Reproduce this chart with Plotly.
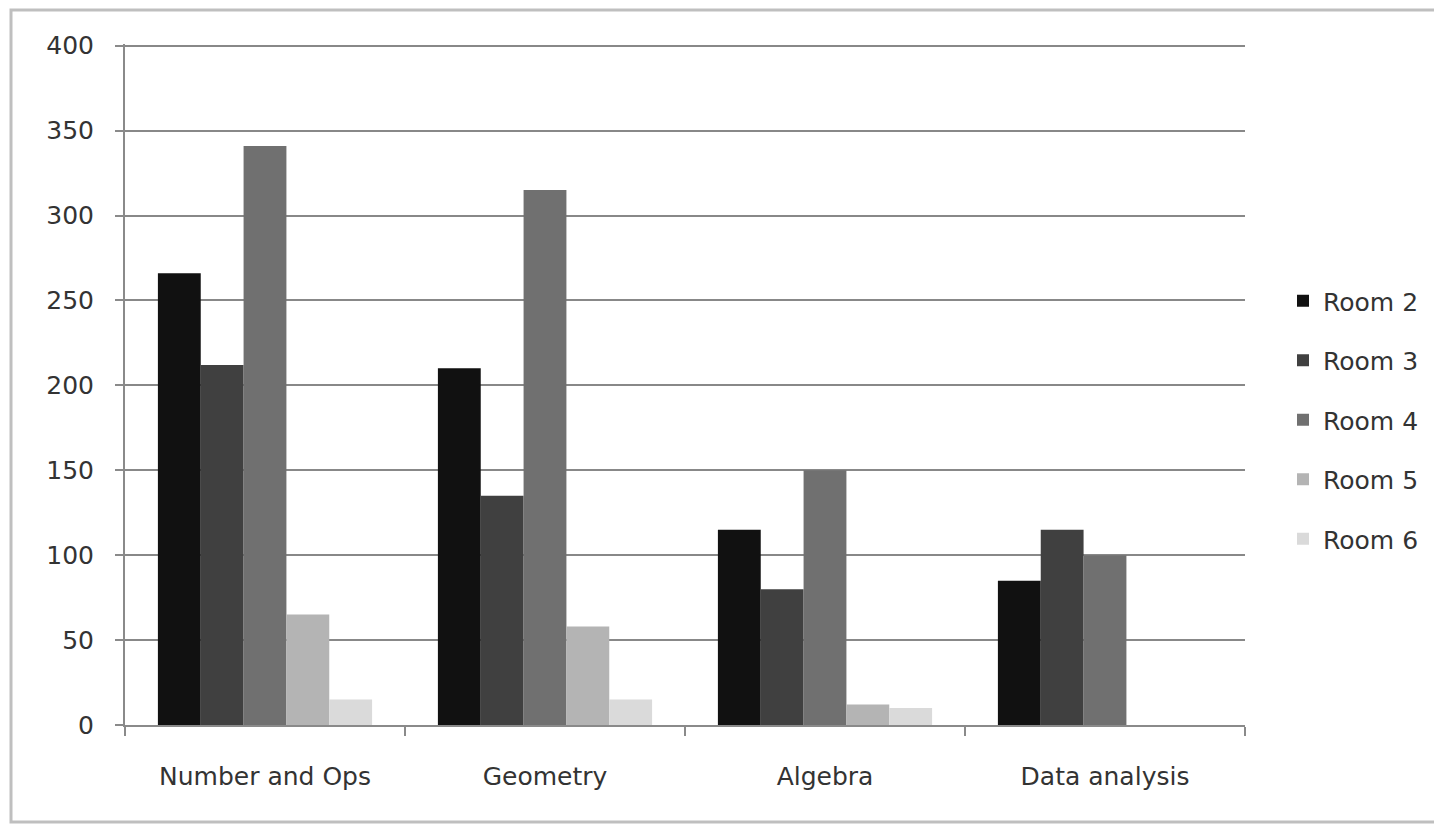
import plotly.graph_objects as go

categories = ["Number and Ops", "Geometry", "Algebra", "Data analysis"]
room2 = [266, 210, 115, 85]
room3 = [212, 135, 80, 115]
room4 = [341, 315, 150, 100]
room5 = [65, 58, 12, 0]
room6 = [15, 15, 10, 0]
series_names = ["Room 2", "Room 3", "Room 4", "Room 5", "Room 6"]
series_values = [room2, room3, room4, room5, room6]
colors = ["#111111", "#404040", "#707070", "#b4b4b4", "#dadada"]
y_ticks = [0, 50, 100, 150, 200, 250, 300, 350, 400]

font = "DejaVu Sans"
fig = go.Figure()
for name, vals, c in zip(series_names, series_values, colors):
    fig.add_trace(go.Bar(x=categories, y=vals, name=name, marker_color=c,
                         marker_line_width=0, legendgroup=name))

OFF = 8  # page body margin
W, H = 1434, 817
# target plot area in screen pixels: x 125..1245, y 44..725
ml = 125 - OFF
mt = 44 - OFF
mr = W + OFF - 1245
mb = H + OFF - 725
pw, ph = W - ml - mr, H - mt - mb

def px(x):
    return (x - OFF - ml) / pw

def py(y):
    return (H - mb - (y - OFF)) / ph

fig.update_layout(
    width=W, height=H,
    margin=dict(l=ml, r=mr, t=mt, b=mb),
    paper_bgcolor="white", plot_bgcolor="white",
    barmode="group", bargap=0.235, bargroupgap=0,
    font=dict(family=font, size=25, color="#333333"),
    legend=dict(x=px(1283), y=py(420), xanchor="left", yanchor="middle",
                font=dict(size=25, color="#333333"), tracegroupgap=24,
                bgcolor="rgba(0,0,0,0)"),
    xaxis=dict(range=[-0.5, 3.5], showgrid=False, showline=True, linecolor="#8a8a8a",
               linewidth=2, ticks="outside", tickson="boundaries", ticklen=9,
               tickcolor="#8a8a8a", tickwidth=2, ticklabelstandoff=28,
               tickfont=dict(size=25, color="#333333")),
    yaxis=dict(range=[0, 401], tickvals=y_ticks, showgrid=True, gridcolor="#888888",
               gridwidth=2, showline=True, linecolor="#8a8a8a", linewidth=2,
               ticks="outside", ticklen=8, tickcolor="#8a8a8a", tickwidth=2,
               ticklabelstandoff=16, zeroline=False, layer="above traces",
               tickfont=dict(size=25, color="#333333")),
    shapes=[dict(type="rect", xref="paper", yref="paper",
                 x0=px(11), x1=px(1439), y0=py(822), y1=py(10),
                 line=dict(color="#bfbfbf", width=3), fillcolor="rgba(0,0,0,0)",
                 layer="below")],
)

fig.write_html("out.html")
